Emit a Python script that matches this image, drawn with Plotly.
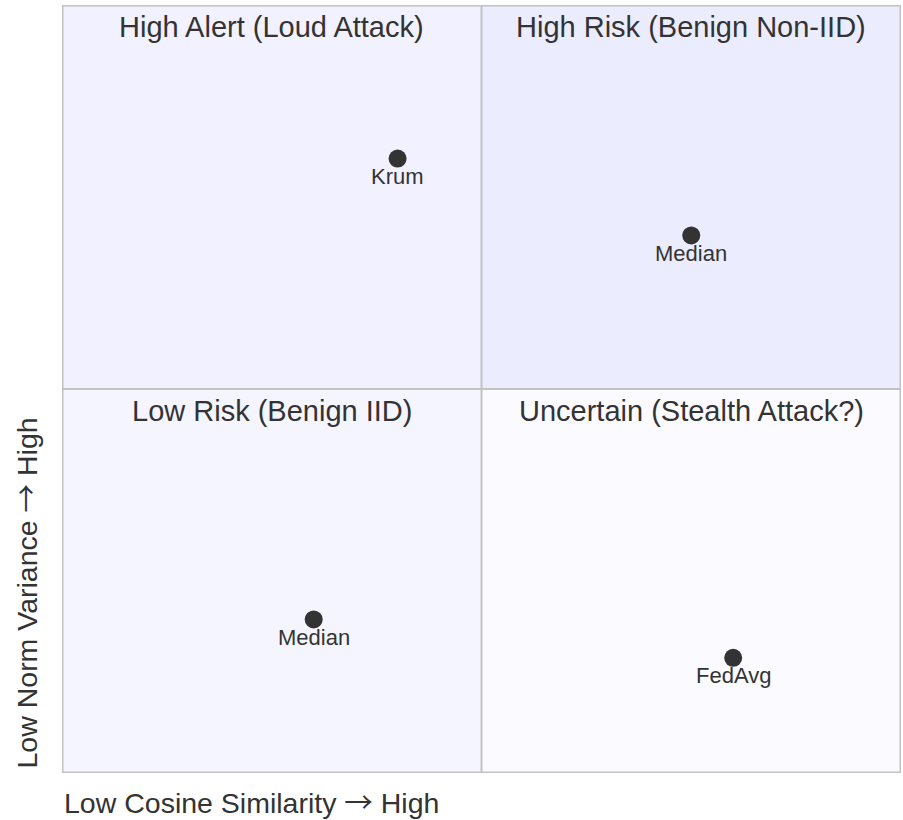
import plotly.graph_objects as go

# Data
point_names = ["Krum", "Median", "Median", "FedAvg"]
point_x = [0.40, 0.75, 0.30, 0.80]
point_y = [0.80, 0.70, 0.20, 0.15]

quadrant_titles = ["High Risk (Benign Non-IID)", "High Alert (Loud Attack)",
                   "Low Risk (Benign IID)", "Uncertain (Stealth Attack?)"]
quadrant_fills = ["#ECECFF", "#F1F1FF", "#F5F5FF", "#FAFAFF"]
# (x0, x1, y0, y1) for quadrants 1..4
quadrant_bounds = [(0.5, 1, 0.5, 1), (0, 0.5, 0.5, 1), (0, 0.5, 0, 0.5), (0.5, 1, 0, 0.5)]

ARROW = '<span style="font-family:Noto Sans CJK SC">\u2192</span>'
x_axis_label = "Low Cosine Similarity " + ARROW + " High"
y_axis_label = "Low Norm Variance " + ARROW + " High"

FONT = "Liberation Sans, Arial, Helvetica, sans-serif"
TXT = "#333333"
BORDER = "#c2c2c2"

fig = go.Figure()

shapes = []
annotations = []
for (x0, x1, y0, y1), fill, title in zip(quadrant_bounds, quadrant_fills, quadrant_titles):
    shapes.append(dict(type="rect", xref="x", yref="y", x0=x0, x1=x1, y0=y0, y1=y1,
                       fillcolor=fill, line=dict(width=0), layer="below"))
    annotations.append(dict(x=(x0 + x1) / 2, y=y1, xref="x", yref="y", text=title,
                            showarrow=False, yanchor="middle", xanchor="center", yshift=-22,
                            font=dict(size=29, color=TXT, family=FONT)))

# internal borders
shapes.append(dict(type="line", xref="x", yref="y", x0=0.5, x1=0.5, y0=0, y1=1,
                   line=dict(color=BORDER, width=2), layer="below"))
shapes.append(dict(type="line", xref="x", yref="y", x0=0, x1=1, y0=0.5, y1=0.5,
                   line=dict(color=BORDER, width=2), layer="below"))
# external border
shapes.append(dict(type="rect", xref="x", yref="y", x0=0, x1=1, y0=0, y1=1,
                   line=dict(color=BORDER, width=3), fillcolor="rgba(0,0,0,0)", layer="above"))

fig.add_trace(go.Scatter(
    x=point_x, y=point_y, mode="markers",
    marker=dict(size=18, color="#333333", line=dict(width=0)),
    hoverinfo="skip", showlegend=False, cliponaxis=False,
))

for name, px, py in zip(point_names, point_x, point_y):
    annotations.append(dict(x=px, y=py, xref="x", yref="y", text=name, showarrow=False,
                            xanchor="center", yanchor="middle", yshift=-18,
                            font=dict(size=22, color=TXT, family=FONT)))

annotations.append(dict(x=0, y=0, xref="paper", yref="paper", text=x_axis_label,
                        showarrow=False, xanchor="left", yanchor="middle", yshift=-27,
                        font=dict(size=28.5, color=TXT, family=FONT)))
annotations.append(dict(x=0, y=0, xref="paper", yref="paper", text=y_axis_label,
                        showarrow=False, xanchor="center", yanchor="bottom", xshift=-38,
                        yshift=2, textangle=-90, font=dict(size=28.5, color=TXT, family=FONT)))

fig.update_layout(
    width=903, height=820,
    margin=dict(l=62, r=2, t=5, b=47),
    paper_bgcolor="white", plot_bgcolor="white",
    shapes=shapes, annotations=annotations,
    xaxis=dict(range=[0, 1], showgrid=False, zeroline=False, showticklabels=False,
               ticks="", fixedrange=True),
    yaxis=dict(range=[0, 1], showgrid=False, zeroline=False, showticklabels=False,
               ticks="", fixedrange=True),
)

fig.write_html("out.html", config={"displayModeBar": False},
               post_script="document.body.style.margin='0';")
